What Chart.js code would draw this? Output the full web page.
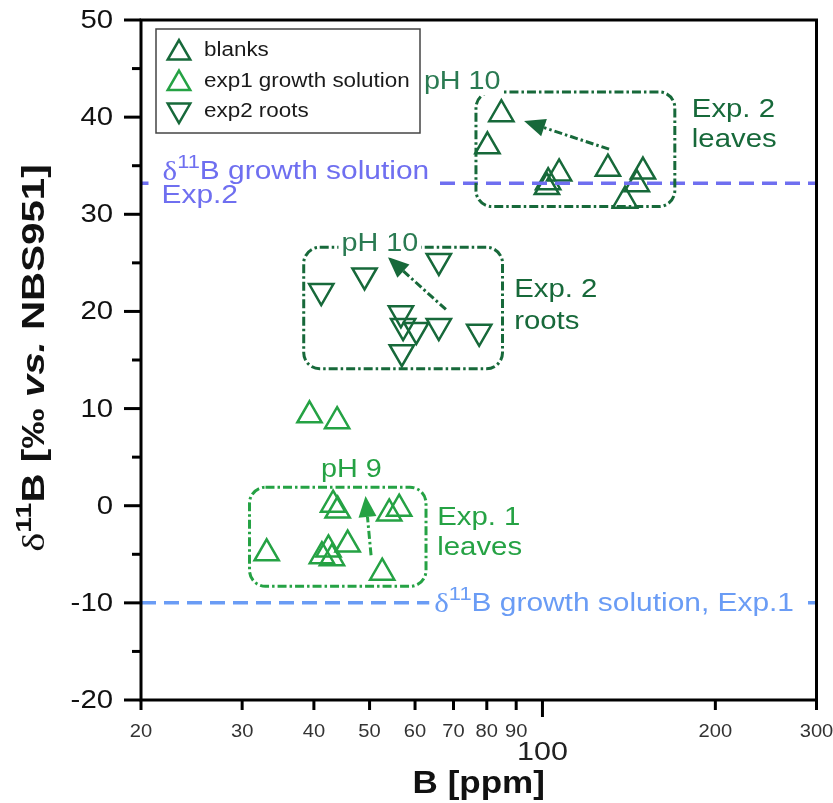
<!DOCTYPE html>
<html>
<head>
<meta charset="utf-8">
<script src="https://cdn.jsdelivr.net/npm/chart.js@4.4.1/dist/chart.umd.min.js"></script>
<style>
  html, body { margin: 0; padding: 0; background: #fff; }
  canvas { display: block; }
</style>
</head>
<body>
<canvas id="chart" width="833" height="803"></canvas>
<script>
// ---- axis ranges and ticks ----
const X_RANGE = [20, 300];
const Y_RANGE = [-20, 50];
const xTickValues = [20, 30, 40, 50, 60, 70, 80, 90, 100, 200, 300];
const yMajorTicks = [-20, -10, 0, 10, 20, 30, 40, 50];
const yMinorTicks = [-15, -5, 5, 15, 25, 35, 45];

// ---- measured samples: B concentration [ppm] and delta11B [permil] ----
const blanksB = [84.8, 80.2, 106.9, 101.8, 102.3, 130, 149.6, 146, 139.2];
const blanksD = [40.3, 37.0, 34.2, 32.8, 33.3, 34.7, 34.4, 33.1, 31.4];

const exp1B = [39.3, 43.9, 43.2, 44.0, 54.1, 56.3, 33.1, 41.3, 42.4, 43.0, 45.8, 52.6];
const exp1D = [9.3, 8.7, 0.1, -0.5, -0.8, -0.3, -4.9, -5.2, -4.5, -5.4, -4.0, -6.9];

const rootsB = [41.2, 49.0, 66.0, 56.7, 57.2, 60.3, 66.0, 77.6, 56.9];
const rootsD = [22.1, 23.7, 25.2, 19.8, 18.5, 18.1, 18.5, 17.9, 15.8];

// delta11B of the growth solutions
const growthExp2 = 33.2;
const growthExp1 = -10;

// ---- colours ----
const DARK = '#17693a';
const LIGHT = '#25a244';
const PH_TOP = '#2a7a52';
const EXP2_LINE = '#6f6ff0';
const EXP1_LINE = '#6a9cf5';

// ---- group annotations (data coordinates) ----
const groupBoxes = [
  { x0: 76.6, x1: 170, y0: 30.8, y1: 42.6, color: DARK },
  { x0: 38.4, x1: 85.2, y0: 14.1, y1: 26.6, color: DARK },
  { x0: 30.9, x1: 62.7, y0: -8.3, y1: 1.9, color: LIGHT }
];
const phArrows = [
  { from: [130.6, 36.7], to: [92.9, 39.6], color: DARK },
  { from: [67.9, 20.2], to: [53.8, 25.6], color: DARK },
  { from: [50.3, -5.1], to: [49.2, 1.0], color: LIGHT }
];
const phLabels = [
  { text: 'pH 10', x: 72.5, y: 43.6, color: PH_TOP },
  { text: 'pH 10', x: 52.1, y: 26.9, color: PH_TOP },
  { text: 'pH 9', x: 46.5, y: 3.7, color: LIGHT }
];
const groupLabels = [
  { lines: ['Exp. 2', 'leaves'], x: 182, y: [40.7, 37.6], color: DARK },
  { lines: ['Exp. 2', 'roots'], x: 89.3, y: [22.2, 18.9], color: DARK },
  { lines: ['Exp. 1', 'leaves'], x: 65.6, y: [-1.3, -4.4], color: LIGHT }
];

const SANS = '"Liberation Sans", Arial, sans-serif';
const SERIF = '"Liberation Serif", "Times New Roman", serif';
const SX = 1.15; // horizontal text widening

function textWidth(ctx, segs) {
  let w = 0;
  for (const s of segs) { ctx.font = s.font; w += ctx.measureText(s.t).width; }
  return w;
}

// Draws a run of differently-styled text pieces on one baseline (middle)
function drawRich(ctx, segs, x, y, align, sx, color) {
  const w = textWidth(ctx, segs) * sx;
  let x0 = x;
  if (align === 'center') x0 = x - w / 2;
  else if (align === 'right') x0 = x - w;
  ctx.save();
  ctx.translate(x0, y);
  ctx.scale(sx, 1);
  ctx.textAlign = 'left';
  ctx.textBaseline = 'middle';
  ctx.fillStyle = color;
  let cx = 0;
  for (const s of segs) {
    ctx.font = s.font;
    ctx.fillText(s.t, cx, s.dy || 0);
    cx += ctx.measureText(s.t).width;
  }
  ctx.restore();
  return { x0, w };
}

function plainText(ctx, t, x, y, font, color, align, sx) {
  return drawRich(ctx, [{ t, font }], x, y, align, sx === undefined ? SX : sx, color);
}

function dashDotRoundRect(ctx, x, y, w, h, r, color) {
  ctx.save();
  ctx.strokeStyle = color;
  ctx.lineWidth = 3;
  ctx.setLineDash([9, 3, 2.5, 3]);
  ctx.beginPath();
  ctx.roundRect(x, y, w, h, r);
  ctx.stroke();
  ctx.restore();
}

function arrow(ctx, x1, y1, x2, y2, color) {
  const ang = Math.atan2(y2 - y1, x2 - x1);
  const headLen = 21, headHalf = 9;
  const bx = x2 - Math.cos(ang) * headLen;
  const by = y2 - Math.sin(ang) * headLen;
  ctx.save();
  ctx.strokeStyle = color;
  ctx.fillStyle = color;
  ctx.lineWidth = 3;
  ctx.setLineDash([8, 3, 2.5, 3]);
  ctx.beginPath();
  ctx.moveTo(x1, y1);
  ctx.lineTo(bx, by);
  ctx.stroke();
  ctx.setLineDash([]);
  ctx.beginPath();
  ctx.moveTo(x2, y2);
  ctx.lineTo(bx + Math.sin(ang) * headHalf, by - Math.cos(ang) * headHalf);
  ctx.lineTo(bx - Math.sin(ang) * headHalf, by + Math.cos(ang) * headHalf);
  ctx.closePath();
  ctx.fill();
  ctx.restore();
}

const annotationPlugin = {
  id: 'groupAnnotations',
  afterDatasetsDraw(chart) {
    const { ctx, scales: { x, y } } = chart;
    const X = v => x.getPixelForValue(v);
    const Y = v => y.getPixelForValue(v);

    for (const b of groupBoxes) {
      dashDotRoundRect(ctx, X(b.x0), Y(b.y1), X(b.x1) - X(b.x0), Y(b.y0) - Y(b.y1), 16, b.color);
    }
    for (const a of phArrows) {
      arrow(ctx, X(a.from[0]), Y(a.from[1]), X(a.to[0]), Y(a.to[1]), a.color);
    }
    const phFont = '25px ' + SANS;
    for (const p of phLabels) {
      ctx.font = phFont;
      const w = ctx.measureText(p.text).width * SX;
      ctx.fillStyle = '#fff';
      ctx.fillRect(X(p.x) - w / 2 - 3, Y(p.y) - 13, w + 6, 26);
      plainText(ctx, p.text, X(p.x), Y(p.y), phFont, p.color, 'center');
    }
    for (const g of groupLabels) {
      g.lines.forEach((ln, i) => plainText(ctx, ln, X(g.x), Y(g.y[i]), '25.5px ' + SANS, g.color, 'left'));
    }

    // growth-solution reference labels, laid over their dashed lines
    const big = '26px ' + SANS;
    const segs = (tail) => [
      { t: '\u03b4', font: '27px ' + SERIF, dy: 1 },
      { t: '11', font: '19px ' + SANS, dy: -9 },
      { t: tail, font: big }
    ];
    ctx.font = big;
    const s2 = segs('B growth solution');
    const w2 = textWidth(ctx, s2) * SX;
    const lx2 = X(21.8), ly2 = Y(34.4);
    ctx.fillStyle = '#fff';
    ctx.fillRect(lx2 - 14, ly2 - 15, w2 + 19, 30);
    drawRich(ctx, s2, lx2, ly2, 'left', SX, EXP2_LINE);
    plainText(ctx, 'Exp.2', lx2 - 1, Y(31.9), big, EXP2_LINE, 'left');

    const s1 = segs('B growth solution, Exp.1');
    const w1 = textWidth(ctx, s1) * SX;
    const lx1 = X(64.8), ly1 = Y(growthExp1);
    ctx.fillStyle = '#fff';
    ctx.fillRect(lx1 - 5, ly1 - 15, w1 + 11, 30);
    drawRich(ctx, s1, lx1, ly1 + 1, 'left', SX, EXP1_LINE);
  },

  afterDraw(chart) {
    const { ctx, chartArea: ca, scales: { x, y } } = chart;
    ctx.save();
    // frame
    ctx.strokeStyle = '#000';
    ctx.lineWidth = 3;
    ctx.strokeRect(ca.left, ca.top, ca.right - ca.left, ca.bottom - ca.top);

    // y ticks and labels
    ctx.lineWidth = 3;
    for (const v of yMajorTicks) {
      const py = y.getPixelForValue(v);
      ctx.beginPath(); ctx.moveTo(ca.left - 17, py); ctx.lineTo(ca.left, py); ctx.stroke();
      plainText(ctx, String(v), ca.left - 28, py + 1, '25.5px ' + SANS, '#111', 'right');
    }
    for (const v of yMinorTicks) {
      const py = y.getPixelForValue(v);
      ctx.beginPath(); ctx.moveTo(ca.left - 9, py); ctx.lineTo(ca.left, py); ctx.stroke();
    }

    // x ticks and labels (log axis)
    for (const v of xTickValues) {
      const px = x.getPixelForValue(v);
      const len = v === 100 ? 17 : 10;
      ctx.beginPath(); ctx.moveTo(px, ca.bottom); ctx.lineTo(px, ca.bottom + len); ctx.stroke();
      if (v === 100) {
        plainText(ctx, '100', px, ca.bottom + 53, '26.5px ' + SANS, '#222', 'center');
      } else {
        plainText(ctx, String(v), px, ca.bottom + 32, '17.5px ' + SANS, '#333', 'center');
      }
    }

    // axis titles
    plainText(ctx, 'B [ppm]', (ca.left + ca.right) / 2, ca.bottom + 84, 'bold 31px ' + SANS, '#111', 'center', 1.13);

    ctx.save();
    ctx.translate(35, (ca.top + ca.bottom) / 2 - 2);
    ctx.rotate(-Math.PI / 2);
    drawRich(ctx, [
      { t: '\u03b4', font: '31px ' + SERIF, dy: 1 },
      { t: '11', font: 'bold 22px ' + SANS, dy: -10 },
      { t: 'B [\u2030 ', font: 'bold 31px ' + SANS },
      { t: 'vs.', font: 'italic bold 31px ' + SANS },
      { t: ' NBS951]', font: 'bold 31px ' + SANS }
    ], 0, 0, 'center', 1.3, '#111');
    ctx.restore();

    // legend
    const lx = ca.left + 15, ly = ca.top + 9, lw = 264, lh = 104;
    ctx.fillStyle = '#fff';
    ctx.fillRect(lx, ly, lw, lh);
    ctx.strokeStyle = '#444';
    ctx.lineWidth = 1.5;
    ctx.strokeRect(lx, ly, lw, lh);
    const rows = chart.data.datasets.filter(d => d.type === 'scatter');
    rows.forEach((d, i) => {
      const cy = ly + 22 + i * 30.5;
      const mx = lx + 23;
      ctx.save();
      ctx.strokeStyle = d.borderColor;
      ctx.fillStyle = 'rgba(0,0,0,0)';
      ctx.lineWidth = 2.5;
      Chart.helpers.drawPoint(ctx, { pointStyle: 'triangle', radius: 13, rotation: d.pointRotation, borderWidth: 2.5 }, mx, cy + (d.pointRotation ? -2 : 2));
      ctx.restore();
      plainText(ctx, d.label, lx + 48, cy, '19.5px ' + SANS, '#1a1a1a', 'left');
    });
    ctx.restore();
  }
};

const toPoints = (xs, ys) => xs.map((b, i) => ({ x: b, y: ys[i] }));

function scatterSet(label, xs, ys, color, rotation) {
  return {
    type: 'scatter',
    label,
    data: toPoints(xs, ys),
    pointStyle: 'triangle',
    pointRotation: rotation,
    pointRadius: 14,
    pointHoverRadius: 14,
    pointBorderWidth: 2.5,
    borderColor: color,
    backgroundColor: 'rgba(0,0,0,0)',
    order: 1
  };
}

function referenceLine(value, color) {
  return {
    type: 'line',
    label: '',
    data: [{ x: X_RANGE[0], y: value }, { x: X_RANGE[1], y: value }],
    borderColor: color,
    borderWidth: 3.5,
    borderDash: [15, 8],
    pointRadius: 0,
    fill: false,
    order: 0
  };
}

new Chart(document.getElementById('chart'), {
  type: 'scatter',
  data: {
    datasets: [
      scatterSet('blanks', blanksB, blanksD, DARK, 0),
      scatterSet('exp1 growth solution', exp1B, exp1D, LIGHT, 0),
      scatterSet('exp2 roots', rootsB, rootsD, DARK, 180),
      referenceLine(growthExp2, EXP2_LINE),
      referenceLine(growthExp1, EXP1_LINE)
    ]
  },
  options: {
    responsive: false,
    animation: false,
    devicePixelRatio: 1,
    layout: { padding: { left: 141, right: 15, top: 20, bottom: 103 } },
    scales: {
      x: { type: 'logarithmic', min: X_RANGE[0], max: X_RANGE[1], display: false },
      y: { type: 'linear', min: Y_RANGE[0], max: Y_RANGE[1], display: false }
    },
    plugins: {
      legend: { display: false },
      tooltip: { enabled: false }
    }
  },
  plugins: [annotationPlugin]
});
</script>
</body>
</html>
